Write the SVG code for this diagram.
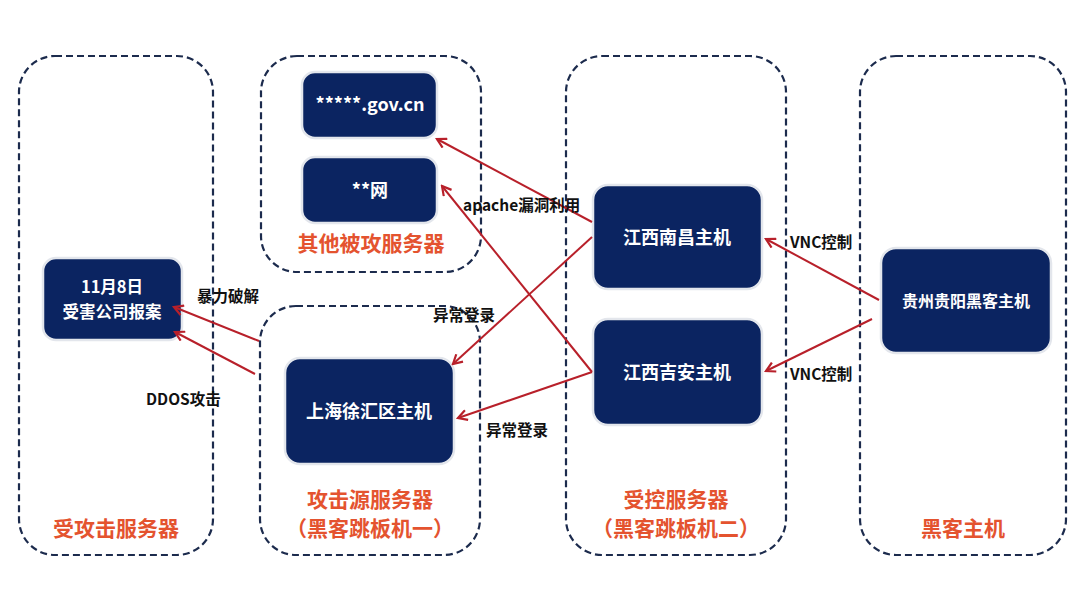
<svg xmlns="http://www.w3.org/2000/svg" width="1080" height="607" viewBox="0 0 1080 607">
<defs>
<style>
.grp{fill:none;stroke:#1c2b4d;stroke-width:2.2;stroke-dasharray:7 4}
.box{fill:#0b2461;stroke:#e3e6ec;stroke-width:2.5}
.bt{font-family:"Noto Sans CJK SC","Liberation Sans",sans-serif;font-weight:700;fill:#ffffff;text-anchor:middle}
.gl{font-family:"Noto Sans CJK SC","Liberation Sans",sans-serif;font-weight:700;fill:#e4532f;font-size:21px;text-anchor:middle}
.cl{font-family:"Noto Sans CJK SC","Liberation Sans",sans-serif;font-weight:700;fill:#111111;font-size:15.5px}
.ln{fill:none;stroke:#b8202a;stroke-width:2;marker-end:url(#ah)}
</style>
<marker id="ah" viewBox="0 0 12 12" refX="10" refY="6" markerWidth="12" markerHeight="12" markerUnits="userSpaceOnUse" orient="auto">
<path d="M1,1 L10,6 L1,11" fill="none" stroke="#b8202a" stroke-width="2.2"/>
</marker>
</defs>
<rect width="1080" height="607" fill="#ffffff"/>

<g id="grp-victim">
<rect class="grp" x="19" y="56" width="194" height="499" rx="36"/>
<text class="gl" x="116" y="536">受攻击服务器</text>
</g>
<g id="grp-other">
<rect class="grp" x="261" y="56" width="220" height="216" rx="36"/>
<text class="gl" x="371" y="251">其他被攻服务器</text>
</g>
<g id="grp-source">
<rect class="grp" x="260" y="306" width="220" height="249" rx="36"/>
<text class="gl" x="370" y="507">攻击源服务器</text>
<text class="gl" x="370" y="536">（黑客跳板机一）</text>
</g>
<g id="grp-controlled">
<rect class="grp" x="566" y="56" width="220" height="499" rx="36"/>
<text class="gl" x="676" y="507">受控服务器</text>
<text class="gl" x="676" y="536">（黑客跳板机二）</text>
</g>
<g id="grp-hacker">
<rect class="grp" x="860" y="56" width="206" height="499" rx="36"/>
<text class="gl" x="963" y="536">黑客主机</text>
</g>

<g id="node-gov">
<rect class="box" x="302" y="72" width="135" height="66" rx="13"/>
<text class="bt" x="370" y="111" font-size="18">*****.gov.cn</text>
</g>
<g id="node-wang">
<rect class="box" x="302" y="157" width="135" height="66" rx="13"/>
<text class="bt" x="370" y="197" font-size="18">**网</text>
</g>
<g id="node-report">
<rect class="box" x="43" y="258" width="139" height="82" rx="13"/>
<text class="bt" x="112" y="293" font-size="16.5">11月8日</text>
<text class="bt" x="112" y="318" font-size="16.5">受害公司报案</text>
</g>
<g id="node-shanghai">
<rect class="box" x="285" y="358" width="169" height="106" rx="15"/>
<text class="bt" x="369" y="418" font-size="18">上海徐汇区主机</text>
</g>
<g id="node-nanchang">
<rect class="box" x="593" y="185" width="169" height="104" rx="15"/>
<text class="bt" x="677" y="244" font-size="18">江西南昌主机</text>
</g>
<g id="node-jian">
<rect class="box" x="593" y="319" width="169" height="106" rx="15"/>
<text class="bt" x="677" y="379" font-size="18">江西吉安主机</text>
</g>
<g id="node-guiyang">
<rect class="box" x="881" y="248" width="170" height="105" rx="15"/>
<text class="bt" x="966" y="307" font-size="16">贵州贵阳黑客主机</text>
</g>

<g id="connectors">
<line class="ln" x1="592" y1="222" x2="437" y2="139"/>
<line class="ln" x1="592" y1="237" x2="453" y2="364"/>
<line class="ln" x1="592" y1="372" x2="442" y2="186"/>
<line class="ln" x1="592" y1="372" x2="458" y2="418"/>
<line class="ln" x1="879" y1="300" x2="766" y2="239"/>
<line class="ln" x1="872" y1="319" x2="766" y2="371"/>
<line class="ln" x1="259" y1="341" x2="174" y2="307"/>
<line class="ln" x1="255" y1="374" x2="175" y2="332"/>
<text class="cl" x="463" y="211">apache漏洞利用</text>
<text class="cl" x="197" y="302">暴力破解</text>
<text class="cl" x="433" y="321">异常登录</text>
<text class="cl" x="146" y="405">DDOS攻击</text>
<text class="cl" x="486" y="436">异常登录</text>
<text class="cl" x="790" y="248">VNC控制</text>
<text class="cl" x="790" y="380">VNC控制</text>
</g>
</svg>
